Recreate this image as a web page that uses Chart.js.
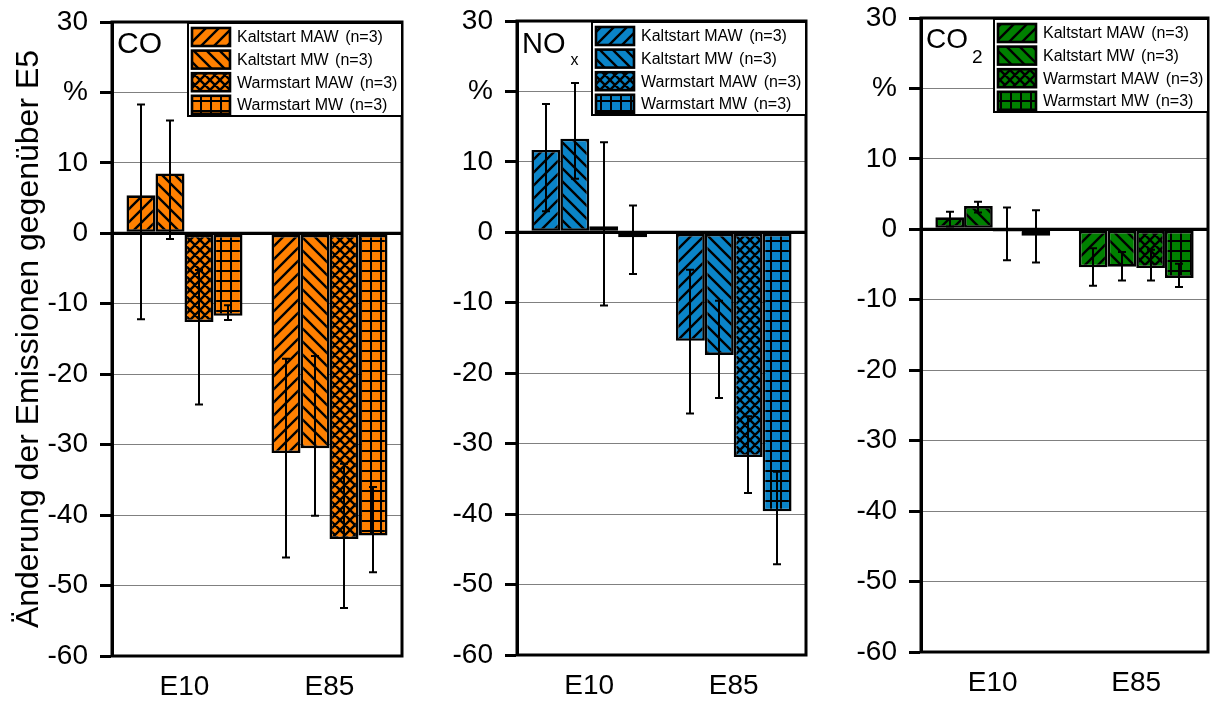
<!DOCTYPE html>
<html><head><meta charset="utf-8">
<script src="https://cdn.jsdelivr.net/npm/chart.js@4.4.1/dist/chart.umd.min.js"></script>
<style>
html,body{margin:0;padding:0;background:#fff;}
#wrap{position:relative;width:1217px;height:702px;overflow:hidden;background:#fff}
canvas{position:absolute;top:0}
</style></head><body>
<div id="wrap">
<canvas id="cCO" width="412" height="702" style="left:0px"></canvas>
<canvas id="cNOx" width="397" height="702" style="left:420px"></canvas>
<canvas id="cCO2" width="387" height="702" style="left:830px"></canvas>
</div>
<script>
// ---------- data ----------
const categories = ['E10', 'E85'];
const seriesLabels = ['Kaltstart MAW', 'Kaltstart MW', 'Warmstart MAW', 'Warmstart MW'];
const sampleNote = '(n=3)';
const yTitle = 'Änderung der Emissionen gegenüber E5';
const yTickValues = [30, 20, 10, 0, -10, -20, -30, -40, -50, -60];
const yTickLabels = ['30', '%', '10', '0', '-10', '-20', '-30', '-40', '-50', '-60'];

// CO
const coKaltMAW = [5.4, -31.2];
const coKaltMW = [8.5, -30.5];
const coWarmMAW = [-12.6, -43.4];
const coWarmMW = [-11.7, -42.9];
const coKaltMAWHi = [18.3, -17.8], coKaltMAWLo = [-12.2, -46.0];
const coKaltMWHi = [16.0, -17.4], coKaltMWLo = [-0.8, -40.1];
const coWarmMAWHi = [-5.2, -32.7], coWarmMAWLo = [-24.3, -53.2];
const coWarmMWHi = [-10.2, -36.0], coWarmMWLo = [-12.3, -48.1];

// NOx
const noxKaltMAW = [11.7, -15.4];
const noxKaltMW = [13.3, -17.4];
const noxWarmMAW = [0.85, -31.9];
const noxWarmMW = [-0.7, -39.6];
const noxKaltMAWHi = [18.2, -5.3], noxKaltMAWLo = [3.0, -25.7];
const noxKaltMWHi = [21.2, -9.7], noxKaltMWLo = [7.6, -23.5];
const noxWarmMAWHi = [12.8, -26.1], noxWarmMAWLo = [-10.4, -37.0];
const noxWarmMWHi = [3.8, -34.0], noxWarmMWLo = [-5.9, -47.1];

// CO2
const co2KaltMAW = [1.7, -5.4];
const co2KaltMW = [3.3, -5.3];
const co2WarmMAW = [-0.3, -5.5];
const co2WarmMW = [-0.9, -6.9];
const co2KaltMAWHi = [2.5, -2.7], co2KaltMAWLo = [0.4, -8.0];
const co2KaltMWHi = [3.9, -3.2], co2KaltMWLo = [2.4, -7.25];
const co2WarmMAWHi = [3.1, -2.9], co2WarmMAWLo = [-4.4, -7.25];
const co2WarmMWHi = [2.7, -4.9], co2WarmMWLo = [-4.7, -8.2];

const FONT = "'Liberation Sans', Arial, sans-serif";

// ---------- patterns ----------
function makePattern(color, kind) {
  const s = (kind === 'grid' || kind === 'cross') ? 10 : 13;
  const c = document.createElement('canvas');
  c.width = s; c.height = s;
  const g = c.getContext('2d');
  g.fillStyle = color; g.fillRect(0, 0, s, s);
  g.strokeStyle = '#000'; g.lineWidth = 2.4;
  g.beginPath();
  if (kind === 'fwd' || kind === 'cross') {
    g.moveTo(-2, s + 2); g.lineTo(s + 2, -2);
    g.moveTo(-2, 2); g.lineTo(2, -2);
    g.moveTo(s - 2, s + 2); g.lineTo(s + 2, s - 2);
  }
  if (kind === 'back' || kind === 'cross') {
    g.moveTo(-2, -2); g.lineTo(s + 2, s + 2);
    g.moveTo(s - 2, -2); g.lineTo(s + 2, 2);
    g.moveTo(-2, s - 2); g.lineTo(2, s + 2);
  }
  g.stroke();
  if (kind === 'grid') {
    g.fillStyle = '#000';
    g.fillRect(0, 0, s, 2);
    g.fillRect(0, 0, 2, s);
  }
  return g.createPattern(c, 'repeat');
}
const kinds = ['fwd', 'back', 'cross', 'grid'];

// ---------- plugin: error bars, frame, legend, panel title ----------
const decor = {
  id: 'decor',
  afterDatasetsDraw(chart, args, opts) {
    const ctx = chart.ctx;
    const ys = chart.scales.y;
    const ca = chart.chartArea;
    ctx.save();
    // zero line on top of bars
    const y0 = ys.getPixelForValue(0);
    ctx.strokeStyle = '#000';
    ctx.lineWidth = 3;
    ctx.beginPath(); ctx.moveTo(ca.left, y0); ctx.lineTo(ca.right, y0); ctx.stroke();
    // error bars
    ctx.lineWidth = 2;
    chart.data.datasets.forEach((ds, i) => {
      const meta = chart.getDatasetMeta(i);
      meta.data.forEach((el, j) => {
        const x = Math.round(el.x);
        const yh = ys.getPixelForValue(ds.errHi[j]);
        const yl = ys.getPixelForValue(ds.errLo[j]);
        ctx.beginPath();
        ctx.moveTo(x, yh); ctx.lineTo(x, yl);
        ctx.moveTo(x - 4, yh); ctx.lineTo(x + 4, yh);
        ctx.moveTo(x - 4, yl); ctx.lineTo(x + 4, yl);
        ctx.stroke();
      });
    });
    // frame
    ctx.lineWidth = 3;
    ctx.strokeRect(ca.left, ca.top, ca.right - ca.left, ca.bottom - ca.top);
    // legend
    const lx = ca.right - 214, ly = ca.top + 1, lw = 214, lh = 93;
    ctx.fillStyle = '#fff';
    ctx.fillRect(lx, ly, lw, lh);
    ctx.lineWidth = 2;
    ctx.strokeStyle = '#000';
    ctx.strokeRect(lx, ly, lw, lh);
    chart.data.datasets.forEach((ds, i) => {
      const cy = ly + 14 + i * 22.6;
      ctx.fillStyle = ds.backgroundColor;
      ctx.fillRect(lx + 4, cy - 9, 38, 18);
      ctx.lineWidth = 2.6;
      ctx.strokeRect(lx + 4, cy - 9, 38, 18);
      ctx.fillStyle = '#000';
      ctx.font = '16px ' + FONT;
      ctx.textBaseline = 'middle';
      ctx.textAlign = 'left';
      ctx.fillText(ds.label, lx + 49, cy + 1);
      const w = ctx.measureText(ds.label).width;
      ctx.fillText(sampleNote, lx + 49 + w + 6.5, cy + 1);
    });
    // panel title
    ctx.fillStyle = '#000';
    ctx.textBaseline = 'alphabetic';
    ctx.font = opts.size + 'px ' + FONT;
    ctx.fillText(opts.title, ca.left + 5, opts.base);
    if (opts.sub) {
      const tw = ctx.measureText(opts.title).width;
      ctx.font = opts.subSize + 'px ' + FONT;
      ctx.fillText(opts.sub, ca.left + 5 + tw + opts.subGap, opts.subBase);
    }
    ctx.restore();
  }
};

function makeChart(id, color, values, hi, lo, cfg) {
  const datasets = seriesLabels.map((lab, i) => ({
    label: lab,
    data: values[i],
    errHi: hi[i],
    errLo: lo[i],
    backgroundColor: makePattern(color, kinds[i]),
    borderColor: '#000',
    borderWidth: 2.6,
    borderSkipped: false,
    categoryPercentage: 0.8,
    barPercentage: 1.0
  }));
  return new Chart(document.getElementById(id), {
    type: 'bar',
    data: { labels: categories, datasets },
    plugins: [decor],
    options: {
      responsive: false,
      animation: false,
      layout: { padding: { top: cfg.top, right: cfg.right, bottom: 0, left: 0 } },
      plugins: {
        legend: { display: false },
        tooltip: { enabled: false },
        decor: cfg.decor
      },
      scales: {
        x: {
          grid: { display: false, drawTicks: false },
          border: { display: false },
          ticks: { color: '#000', font: { family: FONT, size: 28 }, padding: 14 },
          afterFit(s) { s.height = cfg.xh; s.paddingLeft = 0; s.paddingRight = 0; }
        },
        y: {
          min: -60, max: 30,
          afterBuildTicks(s) { s.ticks = yTickValues.map(v => ({ value: v })); },
          ticks: {
            color: '#000',
            font: { family: FONT, size: 28 },
            padding: 12,
            callback: (v) => { const k = yTickValues.indexOf(v); return k >= 0 ? yTickLabels[k] : ''; }
          },
          grid: {
            color: (c) => (c.tick && c.tick.value === 0) ? '#000' : '#808080',
            lineWidth: (c) => (c.tick && c.tick.value === 0) ? 3 : 1,
            tickColor: '#000',
            tickWidth: 3,
            tickLength: 12
          },
          border: { display: true, color: '#000', width: 3 },
          title: cfg.yTitle ? {
            display: true, text: yTitle, color: '#000',
            font: { family: FONT, size: 32 }, padding: { top: 10, bottom: 0 }
          } : { display: false },
          afterFit(s) { s.width = cfg.yw; s.paddingTop = 0; s.paddingBottom = 0; }
        }
      }
    }
  });
}

makeChart('cCO', '#FF8000',
  [coKaltMAW, coKaltMW, coWarmMAW, coWarmMW],
  [coKaltMAWHi, coKaltMWHi, coWarmMAWHi, coWarmMWHi],
  [coKaltMAWLo, coKaltMWLo, coWarmMAWLo, coWarmMWLo],
  { top: 22, right: 10, xh: 46, yw: 112, yTitle: true,
    decor: { title: 'CO', size: 30, base: 53 } });

makeChart('cNOx', '#0A84C8',
  [noxKaltMAW, noxKaltMW, noxWarmMAW, noxWarmMW],
  [noxKaltMAWHi, noxKaltMWHi, noxWarmMAWHi, noxWarmMWHi],
  [noxKaltMAWLo, noxKaltMWLo, noxWarmMAWLo, noxWarmMWLo],
  { top: 21, right: 11, xh: 47, yw: 97, yTitle: false,
    decor: { title: 'NO', size: 29, base: 53, sub: 'x', subSize: 16, subGap: 5, subBase: 65 } });

makeChart('cCO2', '#008000',
  [co2KaltMAW, co2KaltMW, co2WarmMAW, co2WarmMW],
  [co2KaltMAWHi, co2KaltMWHi, co2WarmMAWHi, co2WarmMWHi],
  [co2KaltMAWLo, co2KaltMWLo, co2WarmMAWLo, co2WarmMWLo],
  { top: 18, right: 9, xh: 50, yw: 91, yTitle: false,
    decor: { title: 'CO', size: 28, base: 48, sub: '2', subSize: 19, subGap: 4, subBase: 63 } });
</script>
</body></html>
